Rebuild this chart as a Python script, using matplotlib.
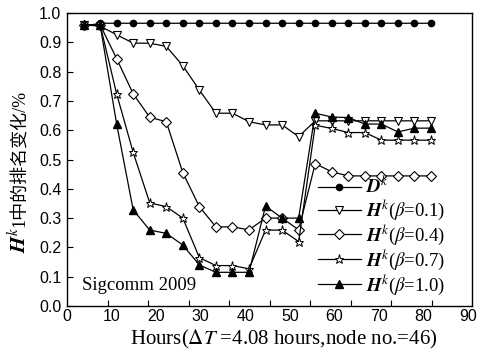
import matplotlib
matplotlib.use('Agg')
import matplotlib.pyplot as plt
import numpy as np

plt.rcParams['mathtext.fontset'] = 'stix'
plt.rcParams['font.family'] = ['Liberation Serif', 'Noto Sans CJK SC']

# sample times: k * dT, dT = 4.08 hours
dT = 4.08
hours = [dT * k for k in range(1, 23)]

d_k = [0.955] + [0.965] * 21
h_01 = [0.96, 0.955, 0.926, 0.897, 0.897, 0.886, 0.82, 0.737, 0.658, 0.658, 0.629,
        0.618, 0.618, 0.578, 0.632, 0.632, 0.632, 0.632, 0.632, 0.632, 0.632, 0.632]
h_04 = [0.96, 0.96, 0.844, 0.724, 0.644, 0.629, 0.455, 0.339, 0.27, 0.27, 0.26,
        0.30, 0.30, 0.26, 0.486, 0.458, 0.444, 0.444, 0.444, 0.444, 0.444, 0.444]
h_07 = [0.96, 0.96, 0.724, 0.524, 0.352, 0.339, 0.30, 0.165, 0.138, 0.138, 0.127,
        0.259, 0.259, 0.22, 0.617, 0.606, 0.592, 0.592, 0.566, 0.566, 0.566, 0.566]
h_10 = [0.96, 0.96, 0.621, 0.328, 0.259, 0.248, 0.208, 0.14, 0.115, 0.115, 0.115,
        0.341, 0.30, 0.30, 0.658, 0.645, 0.643, 0.621, 0.621, 0.594, 0.607, 0.607]

x_ticks = [0, 10, 20, 30, 40, 50, 60, 70, 80, 90]
y_ticks = [0.0, 0.1, 0.2, 0.3, 0.4, 0.5, 0.6, 0.7, 0.8, 0.9, 1.0]

fig = plt.figure(figsize=(4.85, 3.52), dpi=100)
ax = fig.add_axes([67 / 485, 46 / 352, 405 / 485, 293 / 352])

lw = 0.9
ax.plot(hours, d_k, 'k-', marker='o', ms=4.5, lw=lw, mfc='k', label=r'$\mathbfit{D}^{k}$')
ax.plot(hours, h_01, 'k-', marker='v', ms=6, lw=lw, mfc='w', mew=0.8,
        label=r'$\mathbfit{H}^{k}$($\beta$=0.1)')
ax.plot(hours, h_04, 'k-', marker='D', ms=4.8, lw=lw, mfc='w', mew=0.8,
        label=r'$\mathbfit{H}^{k}$($\beta$=0.4)')
ax.plot(hours, h_07, 'k-', marker='*', ms=6.5, lw=lw, mfc='w', mew=0.7,
        label=r'$\mathbfit{H}^{k}$($\beta$=0.7)')
ax.plot(hours, h_10, 'k-', marker='^', ms=5.5, lw=lw, mfc='k',
        label=r'$\mathbfit{H}^{k}$($\beta$=1.0)')

xmax = 99.86
ax.set_xlim(0, xmax)
ax.set_ylim(0, 1.0)

# tick marks at the real hour positions, labels spread as in the original
ax.set_xticks(x_ticks, minor=True)
ax.set_xticks(np.linspace(0, 98.9, len(x_ticks)), [str(t) for t in x_ticks])
ax.tick_params(axis='x', which='major', length=0, pad=2)
ax.tick_params(axis='x', which='minor', direction='in', length=4.5, width=0.8)
ax.set_yticks(y_ticks, ['%.1f' % v for v in y_ticks])
ax.tick_params(axis='y', direction='in', length=4.5, width=0.8, pad=4)
ax.tick_params(top=False, right=False)
for lab in ax.get_xticklabels() + ax.get_yticklabels():
    lab.set_family('Liberation Sans')
    lab.set_fontsize(11.5)
for sp in ax.spines.values():
    sp.set_linewidth(1.0)

ax.set_xlabel(r'Hours($\Delta T$ =4.08 hours,node no.=46)', fontsize=15)
ax.xaxis.set_label_coords(0.535, -0.075)

# y label: math part and CJK part drawn as two rotated texts
ylab_x = 20 / 485
ylab_y = (352 - 227) / 352
fig.text(ylab_x, ylab_y, r'$\mathbfit{H}^{k}$', rotation=90, fontsize=15,
         ha='center', va='top')
fig.text(ylab_x, ylab_y, '1中的排名变化/%', rotation=90, fontsize=13,
         ha='center', va='bottom')

fig.text(82 / 485, (352 - 285) / 352, 'Sigcomm 2009', fontsize=13.5, va='center')

ax.legend(loc='lower right', bbox_to_anchor=(455 / 485, 46 / 352),
          bbox_transform=fig.transFigure, frameon=False, fontsize=13.5,
          handlelength=2.3, handletextpad=0.3, labelspacing=0.0, borderpad=0)

fig.savefig('out.png', dpi=100)
